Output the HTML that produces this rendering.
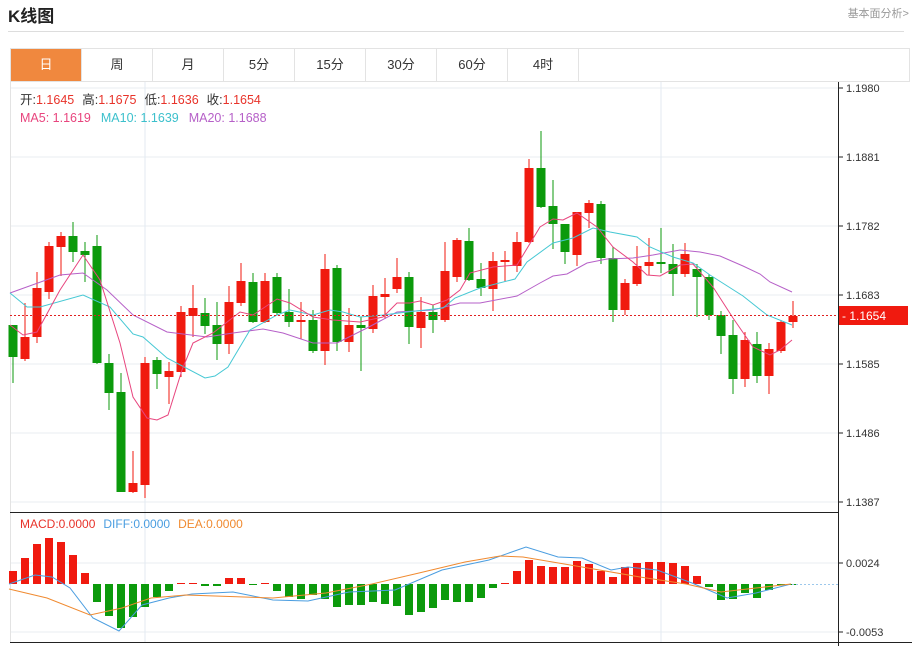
<!DOCTYPE html>
<html><head><meta charset="utf-8"><style>
body{margin:0;width:912px;height:646px;background:#fff;font-family:"Liberation Sans","Noto Sans CJK SC",sans-serif;overflow:hidden;position:relative}
.t{position:absolute;left:8px;top:2px;font-size:17px;font-weight:bold;color:#222}
.r{position:absolute;right:3px;top:5px;font-size:11px;color:#999}
.hl{position:absolute;left:8px;right:8px;top:31px;border-top:1px solid #ddd}
.tabs{position:absolute;left:10px;top:48px;width:900px;height:34px;border:1px solid #e3e3e3;box-sizing:border-box;display:flex}
.tabs div{width:70px;border-right:1px solid #e3e3e3;text-align:center;line-height:32px;font-size:13px;color:#333}
.tabs div.a{background:#f0883e;color:#fff}
svg{position:absolute;left:0;top:0}
</style></head><body>
<div class="t">K线图</div><div class="r">基本面分析&gt;</div><div class="hl"></div>
<div class="tabs"><div class="a">日</div><div>周</div><div>月</div><div>5分</div><div>15分</div><div>30分</div><div>60分</div><div>4时</div></div>
<svg id="s" width="912" height="646" font-family="Liberation Sans, Noto Sans CJK SC, sans-serif"></svg>
<script>
var s='';
function L(x1,y1,x2,y2,c,w,d){s+='<line x1="'+x1+'" y1="'+y1+'" x2="'+x2+'" y2="'+y2+'" stroke="'+c+'" stroke-width="'+(w||1)+'"'+(d?' stroke-dasharray="'+d+'"':'')+'/>';}
function T(x,y,t,c,sz){s+='<text x="'+x+'" y="'+y+'" fill="'+c+'" font-size="'+(sz||12)+'">'+t+'</text>';}
[88,157,226,295,364,433,502].forEach(function(y){L(10,y,838,y,'#e8ecf0');});
[563,632].forEach(function(y){L(10,y,838,y,'#e8ecf0');});
[145,661].forEach(function(x){L(x,82,x,642,'#e3eaf2');});
L(10.5,82,10.5,642,'#e3e3e3');
L(838.5,82,838.5,646,'#222');
L(10,512.5,838,512.5,'#222');L(10,642.5,912,642.5,'#222');
var lab=[[88,'1.1980'],[157,'1.1881'],[226,'1.1782'],[295,'1.1683'],[364,'1.1585'],[433,'1.1486'],[502,'1.1387']];
lab.forEach(function(a){L(838,a[0],843,a[0],'#222');T(846,a[0]+4,a[1],'#333',11);});
[[563,'0.0024'],[632,'-0.0053']].forEach(function(a){L(838,a[0],843,a[0],'#222');T(846,a[0]+4,a[1],'#333',11);});
var C=[[325,357,325,383,'g'],[337,359,303,361,'r'],[288,337,272,343,'r'],[246,292,242,299,'r'],[236,247,232,276,'r'],[236,252,222,262,'g'],[251,255,242,282,'g'],[246,363,235,364,'g'],[363,393,354,410,'g'],[392,492,373,492,'g'],[483,492,451,493,'r'],[363,485,357,498,'r'],[360,374,357,389,'g'],[371,377,362,404,'r'],[312,372,306,377,'r'],[308,316,285,337,'r'],[313,326,298,334,'g'],[325,344,302,360,'g'],[302,344,286,354,'r'],[281,303,263,306,'r'],[282,322,273,323,'g'],[281,322,273,323,'r'],[277,313,273,315,'g'],[312,322,289,327,'g'],[320,322,302,339,'r'],[320,351,310,353,'g'],[269,351,254,365,'r'],[268,342,265,351,'g'],[325,342,308,352,'r'],[325,328,317,371,'g'],[296,329,285,333,'r'],[294,297,278,319,'r'],[277,289,258,293,'r'],[277,327,272,344,'g'],[312,328,297,348,'r'],[312,320,305,333,'g'],[271,320,242,322,'r'],[240,277,238,282,'r'],[241,280,228,281,'g'],[279,288,263,296,'g'],[261,289,252,311,'r'],[260,262,251,282,'r'],[242,266,232,272,'r'],[168,242,159,243,'r'],[168,207,131,208,'g'],[206,224,180,249,'g'],[224,252,224,264,'g'],[212,255,212,266,'r'],[203,213,200,228,'r'],[204,258,201,264,'g'],[258,310,247,322,'g'],[283,310,279,315,'r'],[266,284,246,286,'r'],[262,266,238,275,'r'],[262,264,228,273,'g'],[264,274,244,296,'g'],[254,274,243,277,'r'],[269,277,264,317,'g'],[277,315,274,320,'g'],[315,336,311,354,'g'],[335,379,320,394,'g'],[340,379,332,387,'r'],[344,376,332,383,'g'],[349,376,343,394,'r'],[322,351,320,353,'r'],[316,322,301,328,'r']];
C.forEach(function(c,i){var x=13+12*i;var col=c[4]=='r'?'#f01a0f':'#0c9a0c';
L(x,c[2],x,c[3],col,1);var h=Math.max(c[1]-c[0],2);
s+='<rect x="'+(x-4.5)+'" y="'+c[0]+'" width="9" height="'+h+'" fill="'+col+'"/>';});
function P(pts,c){s+='<polyline fill="none" stroke="'+c+'" stroke-width="1" points="'+pts.map(function(p){return p.join(',')}).join(' ')+'"/>';}
P([[10,293],[60,275],[83,273],[107,290],[133,315],[167,332],[207,337],[233,333],[263,329],[283,333],[313,343],[337,343],[367,328],[397,312],[433,310],[460,303],[480,303],[517,296],[540,283],[553,276],[567,274],[587,263],[607,259],[633,258],[653,255],[680,250],[700,252],[720,256],[743,266],[760,274],[770,282],[792,292]],'#b660c8');
P([[10,293],[27,307],[40,307],[83,295],[110,307],[133,334],[143,337],[167,358],[205,378],[215,376],[228,367],[250,330],[277,315],[290,310],[313,315],[330,310],[343,312],[360,317],[383,315],[407,312],[443,308],[455,298],[480,288],[515,279],[527,262],[553,243],[573,238],[593,228],[610,232],[637,237],[650,247],[673,257],[693,263],[710,275],[743,296],[767,315],[792,325]],'#46c8d4');
P([[10,325],[23,335],[37,332],[60,290],[83,255],[100,280],[120,343],[133,397],[147,418],[157,420],[168,415],[182,370],[193,343],[213,333],[240,312],[253,315],[277,299],[290,303],[313,317],[333,320],[360,322],[383,317],[397,303],[410,303],[420,301],[433,305],[447,300],[460,290],[470,273],[493,267],[517,265],[540,227],[553,219],[563,220],[577,213],[597,227],[613,247],[633,262],[647,275],[660,276],[680,265],[693,264],[713,287],[733,318],[753,347],[770,355],[780,350],[792,340]],'#e8457e');
L(10,315.5,838,315.5,'#e02020',1,'2,2');
s+='<rect x="839" y="306" width="69" height="19" fill="#f01a0f"/>';T(842,320,'- 1.1654','#fff',12);
var z=584;
var M=[571,558,544,538,542,555,573,602,616,628,617,607,597,591,583,583,586,586,578,578,585,583,591,597,599,595,599,607,605,605,602,604,606,615,612,608,600,602,602,598,588,583,571,560,566,567,567,561,564,571,577,567,563,562,562,563,566,576,587,600,599,593,598,590,585,584];
M.forEach(function(y,i){var x=13+12*i;var red=y<z;var top=Math.min(y,z),h=Math.max(Math.abs(y-z),1);
s+='<rect x="'+(x-4)+'" y="'+top+'" width="8" height="'+h+'" fill="'+(red?'#f01a0f':'#0c9a0c')+'"/>';});
L(792,584.5,838,584.5,'#9cc8ec',1,'2,2');
P([[9,584],[35,575],[52,577],[70,588],[93,618],[119,631],[142,605],[169,598],[192,594],[233,592],[273,600],[308,601],[349,592],[395,590],[442,570],[489,560],[526,547],[558,557],[582,558],[611,570],[628,567],[657,570],[692,583],[727,598],[756,593],[791,584]],'#4a9de0');
P([[9,589],[47,598],[90,615],[122,608],[151,598],[186,595],[273,598],[326,593],[372,584],[419,573],[465,562],[500,556],[523,557],[582,567],[640,577],[686,584],[721,592],[756,588],[791,584]],'#f08a30');
s+='<text x="20" y="528" font-size="12"><tspan fill="#e8332a">MACD:0.0000</tspan><tspan dx="8" fill="#4a9de0">DIFF:0.0000</tspan><tspan dx="8" fill="#f08a30">DEA:0.0000</tspan></text>';
s+='<text x="20" y="104" font-size="12.5" fill="#333">开:<tspan fill="#e8332a">1.1645</tspan><tspan dx="8">高:</tspan><tspan fill="#e8332a">1.1675</tspan><tspan dx="8">低:</tspan><tspan fill="#e8332a">1.1636</tspan><tspan dx="8">收:</tspan><tspan fill="#e8332a">1.1654</tspan></text>';
s+='<text x="20" y="122" font-size="12.5"><tspan fill="#e8457e">MA5: 1.1619</tspan><tspan dx="10" fill="#3cc0cc">MA10: 1.1639</tspan><tspan dx="10" fill="#b660c8">MA20: 1.1688</tspan></text>';
document.getElementById('s').innerHTML=s;
</script>
</body></html>
